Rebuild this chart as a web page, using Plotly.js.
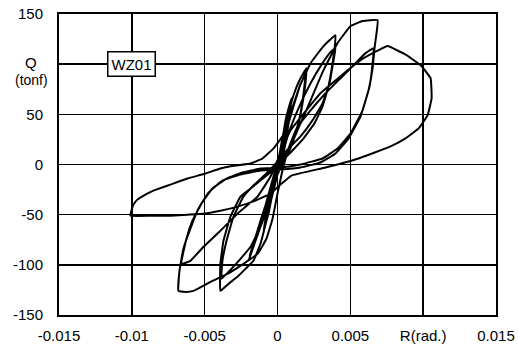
<!DOCTYPE html>
<html>
<head>
<meta charset="utf-8">
<script src="https://cdn.plot.ly/plotly-3.0.1.min.js"></script>
<style>html,body{margin:0;padding:0;background:#fff;}#chart{width:518px;height:354px;}</style>
</head>
<body>
<div id="chart"></div>
<script>
// Story drift angle R (rad.) and shear force Q (tonf), traced in loading order
const driftR = [
  0, 0.00021, 0.00048, 0.00034, 0.00007, -0.00021, -0.00041, -0.00027, 0, 0.00027,
  0.00055, 0.00076, 0.00096, 0.00076, 0.00048, 0.00021, -0.00014, -0.00062, -0.00096, -0.00076,
  -0.00041, -0.00007, 0.00034, 0.00076, 0.0011, 0.00151, 0.00199, 0.00192, 0.00172, 0.00137,
  0.00089, 0.00034, -0.00014, -0.00062, -0.00117, -0.00165, -0.00199, -0.00172, -0.00131, -0.00089,
  -0.00041, 0.00007, 0.00055, 0.0011, 0.00158, 0.00192, 0.00179, 0.00151, 0.00103, 0.00048,
  -0.00007, -0.00062, -0.00117, -0.00165, -0.00192,
  -0.00158, -0.00117, -0.00076, -0.00034, 0.00007, 0.00041, 0.00069, 0.00089, 0.00124, 0.00158,
  0.00227, 0.00316, 0.00398,
  0.00392, 0.00378, 0.0035, 0.00309, 0.00254, 0.00179, 0.00103, 0.00034, -0.00034, -0.00117,
  -0.00185, -0.00254, -0.00323, -0.00371, -0.00392, -0.00392,
  -0.00337, -0.00275, -0.0022, -0.00165, -0.00117, -0.00076, -0.00041, -0.00007, 0.00027, 0.00076,
  0.00144, 0.00227, 0.00309, 0.00364, 0.00398,
  0.00385, 0.00357, 0.00309, 0.0024, 0.00158, 0.00076, 0.00007, -0.00076, -0.00158, -0.00234,
  -0.00302, -0.0035, -0.00378, -0.00385,
  -0.00323, -0.00254, -0.00185, -0.00117, -0.00062, -0.00014, 0.00041, 0.00089, 0.00137, 0.00227,
  0.00316, 0.00412, 0.00502, 0.00584, 0.00687,
  0.0068, 0.00666, 0.00653, 0.00625, 0.0057, 0.00488, 0.00398, 0.00295, 0.00158, 0.00021,
  -0.00117, -0.00254, -0.00378, -0.00474, -0.00543, -0.00598, -0.00646, -0.00673, -0.0068,
  -0.00632, -0.00577, -0.0046, -0.00344, -0.00234, -0.00137, -0.00076, -0.00034, 0, 0.00034,
  0.00076, 0.00131, 0.00227, 0.0033, 0.00433, 0.00536, 0.00605, 0.0066,
  0.00653, 0.00632, 0.00584, 0.00502, 0.00412, 0.00309, 0.00158, 0.00021, -0.00117, -0.0024,
  -0.0035, -0.00447, -0.00522, -0.00584, -0.00625, -0.0066,
  -0.00598, -0.00508, -0.00392, -0.00275, -0.00137, -0.00048, 0, 0.00041, 0.00089, 0.00192,
  0.00295, 0.00433, 0.0057, 0.00694, 0.00756, 0.00886, 0.00989, 0.01051, 0.01058, 0.0103,
  0.00969, 0.00879, 0.00776, 0.00556, 0.0033, 0.00096, 0.00021, -0.00048, -0.00151, -0.00275,
  -0.00392, -0.00508, -0.00618, -0.00735, -0.00872, -0.0101,
  -0.01003, -0.00989, -0.00962, -0.00907, -0.00852, -0.00735, -0.00618, -0.00495, -0.00392, -0.00289,
  -0.00185, -0.00103, -0.00027, 0.00034
];
const shearQ = [
  0, 16, 38, 21, 1, -19, -34, -19, -2, 18,
  44, 56, 66, 41, 16, 1, -14, -49, -66, -49,
  -24, -4, 21, 51, 69, 84, 96, 81, 61, 36,
  16, 1, -14, -34, -59, -82, -96, -84, -64, -44,
  -19, 6, 31, 58, 80, 90, 71, 46, 21, 4,
  -12, -32, -56, -79, -91,
  -79, -62, -44, -24, -2, 16, 36, 51, 66, 80,
  101, 118, 129,
  116, 101, 78, 58, 41, 26, 14, 4, -6, -16,
  -24, -32, -52, -76, -99, -126,
  -119, -112, -104, -96, -79, -56, -34, -14, 6, 31,
  56, 81, 101, 112, 116,
  104, 81, 61, 44, 28, 16, 4, -9, -20, -32,
  -52, -76, -96, -114,
  -105, -94, -82, -62, -39, -14, 6, 18, 34, 64,
  94, 121, 138, 143, 144,
  131, 116, 96, 74, 48, 26, 11, 2, -3, -5,
  -6, -10, -16, -28, -44, -64, -84, -106, -126,
  -127, -126, -117, -109, -99, -89, -74, -54, -29, -6,
  16, 36, 54, 71, 86, 101, 111, 116,
  101, 78, 54, 31, 16, 6, 0, -3, -4, -8,
  -14, -24, -39, -56, -74, -99,
  -96, -82, -66, -49, -32, -12, 4, 19, 34, 53,
  71, 88, 104, 114, 118, 109, 98, 86, 66, 49,
  36, 26, 18, 6, -3, -11, -20, -29, -36, -42,
  -46, -49, -50, -51, -51, -51,
  -46, -40, -35, -30, -26, -20, -14, -9, -4, -1,
  1, 6, 16, 28
];

const xTickVals = [-0.015, -0.01, -0.005, 0, 0.005, 0.01, 0.015];
const xTickText = ["-0.015", "-0.01", "-0.005", "0", "0.005", "R(rad.)", "0.015"];
const yTickVals = [-150, -100, -50, 0, 50, 100, 150];
const yTickText = ["-150", "-100", "-50", "0", "50", "", "150"];
const specimen = "WZ01";

const fontFam = "Liberation Sans, Arial, sans-serif";

const trace = {
  x: driftR, y: shearQ, type: 'scatter', mode: 'lines',
  line: {color: '#000', width: 2, shape: 'spline', smoothing: 0.3},
  hoverinfo: 'skip'
};

const layout = {
  width: 518, height: 354,
  margin: {l: 59, r: 22, t: 14, b: 39},
  paper_bgcolor: '#fff', plot_bgcolor: '#fff',
  showlegend: false,
  font: {family: fontFam, size: 15, color: '#000'},
  xaxis: {
    range: [-0.015, 0.015], tickvals: xTickVals, ticktext: xTickText,
    showgrid: true, gridcolor: '#000', gridwidth: 1.5,
    zeroline: false, showline: true, linecolor: '#000', linewidth: 2, mirror: true,
    ticks: '', ticklabelstandoff: 6, fixedrange: true,
    tickfont: {family: fontFam, size: 15, color: '#000'}
  },
  yaxis: {
    range: [-150, 150], tickvals: yTickVals, ticktext: yTickText,
    showgrid: true, gridcolor: '#000', gridwidth: 1.5,
    zeroline: false, showline: true, linecolor: '#000', linewidth: 2, mirror: true,
    ticks: '', ticklabelstandoff: 11, fixedrange: true,
    tickfont: {family: fontFam, size: 15, color: '#000'}
  },
  annotations: [
    {xref: 'paper', yref: 'paper', x: -0.063, y: 0.84, xanchor: 'center', yanchor: 'middle',
     text: 'Q', showarrow: false, font: {family: fontFam, size: 15, color: '#000'}},
    {xref: 'paper', yref: 'paper', x: -0.063, y: 0.78, xanchor: 'center', yanchor: 'middle',
     text: '(tonf)', showarrow: false, font: {family: fontFam, size: 14, color: '#000'}},
    {xref: 'x', yref: 'y', x: -0.01, y: 100, xanchor: 'center', yanchor: 'middle',
     text: specimen, showarrow: false, bgcolor: '#fff', bordercolor: '#000', borderwidth: 1.5,
     borderpad: 3, font: {family: fontFam, size: 15, color: '#000'}}
  ]
};

Plotly.newPlot('chart', [trace], layout, {staticPlot: true, displayModeBar: false});
</script>
</body>
</html>
